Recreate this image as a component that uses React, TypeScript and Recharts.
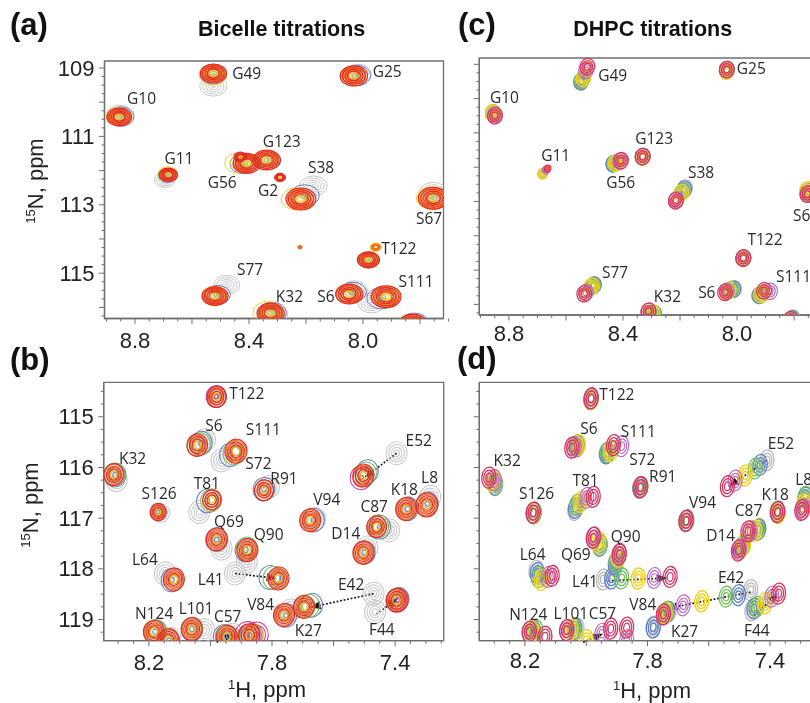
import React from 'react';
import { ScatterChart, Scatter, XAxis, YAxis, ReferenceLine, ReferenceArea } from 'recharts';

type Row = number[];
const GREY = '#c6c6c6', BLUE = '#5f7fcb', GREEN = '#74bf5f', YELLOW = '#f1d21f', PURPLE = '#b96cc3', CRIMSON = '#d7345f', RED = '#e32a20', ORANGE = '#f0701e', MAGENTA = '#d2308e';

/* ---------- tick values ---------- */
const xTicksTop = [8.9, 8.85, 8.8, 8.75, 8.7, 8.65, 8.6, 8.55, 8.5, 8.45, 8.4, 8.35, 8.3, 8.25, 8.2, 8.15, 8.1, 8.05, 8.0, 7.95, 7.9, 7.85, 7.8, 7.75, 7.7];
const xMajorTop = [8.8, 8.6, 8.4, 8.2, 8.0, 7.8];
const xLabelsTop = [8.8, 8.4, 8.0];
const yTicksTop = [109, 109.25, 109.5, 109.75, 110, 110.25, 110.5, 110.75, 111, 111.25, 111.5, 111.75, 112, 112.25, 112.5, 112.75, 113, 113.25, 113.5, 113.75, 114, 114.25, 114.5, 114.75, 115, 115.25, 115.5, 115.75, 116, 116.25];
const yMajorTop = [109, 110, 111, 112, 113, 114, 115, 116];
const yLabelsTop = [109, 111, 113, 115];
const xTicksBottom = [8.3, 8.25, 8.2, 8.15, 8.1, 8.05, 8.0, 7.95, 7.9, 7.85, 7.8, 7.75, 7.7, 7.65, 7.6, 7.55, 7.5, 7.45, 7.4, 7.35, 7.3, 7.25];
const xMajorBottom = [8.2, 8.0, 7.8, 7.6, 7.4];
const xLabelsBottom = [8.2, 7.8, 7.4];
const yTicksBottom = [114.5, 114.75, 115, 115.25, 115.5, 115.75, 116, 116.25, 116.5, 116.75, 117, 117.25, 117.5, 117.75, 118, 118.25, 118.5, 118.75, 119, 119.25];
const yMajorBottom = [115, 116, 117, 118, 119];
const yLabelsBottom = [115, 116, 117, 118, 119];

/* ---------- panel (a): 1H, 15N, relative peak size ---------- */
const aGrey: Row[] = [[8.525,109.53,1.05],[8.017,109.17,1],[8.853,110.35,.95],[8.695,112.27,.8],[8.174,112.45,1.05],[7.753,112.65,1.1],[8.478,115.34,1],[8.03,115.5,1],[7.97,115.87,1.05],[8.31,116.22,1],[8.221,114.24,.2],[8.41,111.8,.9]];
const aBlue: Row[] = [[8.525,109.18,1],[8.022,109.22,1.05],[8.85,110.42,1],[8.685,112.14,.72],[8.42,111.8,1],[8.333,111.7,.95],[8.205,112.73,1.1],[7.755,112.81,1.1],[7.98,114.62,.8],[8.51,115.63,.95],[8.318,116.15,1.05],[8.035,115.55,1],[7.935,115.73,1.1],[7.82,116.48,1.1]];
const aYellow: Row[] = [[8.527,109.2,1],[8.035,109.25,.95],[8.858,110.42,.9],[8.685,112.1,.72],[8.437,111.78,1],[8.34,111.7,.9],[8.235,112.83,1.08],[7.76,112.8,1.1],[7.955,114.24,.42],[8.521,115.66,.95],[8.335,116.14,1.05],[8.05,115.6,.95],[7.92,115.68,1.05],[7.83,116.5,1]];
const aOrange: Row[] = [[8.525,109.15,1],[8.033,109.22,1],[8.855,110.44,.95],[8.683,112.13,.72],[8.41,111.78,1.05],[8.337,111.68,1],[8.219,112.84,1.12],[7.752,112.82,1.15],[7.98,114.6,.85],[7.955,114.24,.38],[8.52,115.67,1],[8.325,116.17,1.05],[8.05,115.62,1.05],[7.92,115.7,1.15],[7.825,116.5,1.1],[8.221,114.24,.16]];
const aRed: Row[] = [[8.525,109.16,1],[8.032,109.23,1.05],[8.855,110.43,.95],[8.683,112.12,.7],[8.408,111.79,1.05],[8.43,111.6,.5],[8.338,111.69,1.05],[8.291,112.2,.42],[8.218,112.83,1.15],[7.753,112.81,1.15],[7.981,114.61,.85],[8.519,115.67,1],[8.324,116.17,1.05],[8.048,115.61,1.05],[7.919,115.69,1.15],[7.825,116.5,1.1]];
const aLabels = [
  { t: 'G49', h: 8.408, n: 109.15 }, { t: 'G25', h: 7.915, n: 109.1 }, { t: 'G10', h: 8.777, n: 109.88 }, { t: 'G123', h: 8.285, n: 111.12 },
  { t: 'G11', h: 8.646, n: 111.63 }, { t: 'S38', h: 8.147, n: 111.9 }, { t: 'G56', h: 8.494, n: 112.32 }, { t: 'G2', h: 8.333, n: 112.56 },
  { t: 'S67', h: 7.768, n: 113.39 }, { t: 'T122', h: 7.874, n: 114.26 }, { t: 'S77', h: 8.396, n: 114.88 }, { t: 'S111', h: 7.814, n: 115.22 },
  { t: 'K32', h: 8.258, n: 115.68 }, { t: 'S6', h: 8.13, n: 115.66 },
];

/* ---------- panel (c) ---------- */
const cGrey: Row[] = [[8.547,109.52],[8.036,109.15],[8.857,110.42],[8.682,112.2,.6],[8.434,111.9],[8.331,111.69],[8.182,112.61],[7.75,112.7],[7.978,114.65],[8.502,115.43],[8.29,116.28],[8.01,115.55],[7.92,115.73],[7.805,116.4]];
const cBlue: Row[] = [[8.547,109.5],[8.036,109.16],[8.856,110.42],[8.682,112.19,.6],[8.434,111.9],[8.331,111.69],[8.185,112.64],[7.752,112.72],[7.978,114.65],[8.502,115.44],[8.292,116.27],[8.013,115.56],[7.922,115.74],[7.808,116.42]];
const cGreen: Row[] = [[8.545,109.47],[8.036,109.17],[8.856,110.42],[8.681,112.18,.6],[8.43,111.88],[8.331,111.69],[8.19,112.7],[7.752,112.74],[7.978,114.65],[8.505,115.46],[8.294,116.26],[8.02,115.57],[7.918,115.72],[7.81,116.44]];
const cYellow: Row[] = [[8.539,109.41],[8.036,109.2],[8.857,110.41],[8.682,112.19,.6],[8.426,111.88],[8.331,111.7],[8.196,112.76],[7.754,112.66],[7.978,114.66],[8.51,115.48],[8.297,116.25],[8.03,115.6],[7.915,115.71],[7.815,116.46]];
const cPurple: Row[] = [[8.53,109.18],[8.036,109.16],[8.85,110.48],[8.67,112.08,.5],[8.41,111.82],[8.331,111.69],[8.213,112.95],[7.753,112.78],[7.978,114.65],[8.53,115.65],[8.31,116.2],[8.036,115.62],[7.884,115.62],[7.812,116.45]];
const cCrimson: Row[] = [[8.525,109.07],[8.036,109.15],[8.849,110.5],[8.664,112.04,.42],[8.407,111.81],[8.331,111.69],[8.215,112.98],[7.753,112.79],[7.978,114.65],[8.536,115.69],[8.311,116.2],[8.042,115.65],[7.905,115.6],[7.812,116.45]];
const cLabels = [
  { t: 'G49', h: 8.436, n: 109.32 }, { t: 'G25', h: 7.95, n: 109.12 }, { t: 'G10', h: 8.816, n: 109.95 }, { t: 'G123', h: 8.291, n: 111.15 },
  { t: 'G11', h: 8.636, n: 111.64 }, { t: 'S38', h: 8.126, n: 112.15 }, { t: 'G56', h: 8.408, n: 112.43 }, { t: 'S67', h: 7.758, n: 113.39 },
  { t: 'T122', h: 7.902, n: 114.08 }, { t: 'S77', h: 8.428, n: 115.07 }, { t: 'S111', h: 7.802, n: 115.18 }, { t: 'S6', h: 8.106, n: 115.64 },
  { t: 'K32', h: 8.244, n: 115.75 },
];

/* ---------- panel (b) ---------- */
const bGrey: Row[] = [[7.98,114.61,.9],[8.018,115.46],[7.964,115.86],[8.305,116.25],[7.81,116.38],[8.16,116.9,.8],[8.036,116.88],[7.66,117.02],[7.395,115.72],[7.286,116.58],[7.36,116.8],[7.42,117.24],[7.49,117.58],[7.964,117.6],[7.882,117.86],[8.148,118.09],[7.92,118.09],[7.74,118.82],[7.47,118.49],[7.465,118.85],[8.13,119.38],[8.021,119.21],[7.93,119.3],[7.87,119.28]];
const bBlue: Row[] = [[7.98,114.6,.9],[8.03,115.52],[7.935,115.75],[8.31,116.15],[7.826,116.43],[8.17,116.88,.75],[8.01,116.66],[7.665,117.04],[7.49,116.08],[7.295,116.72],[7.36,116.82],[7.45,117.18],[7.5,117.68],[7.98,117.42],[7.885,117.63],[8.125,118.22],[7.807,118.17],[7.755,118.92],[7.671,118.72],[7.39,118.6],[8.18,119.24],[8.06,119.19],[7.955,119.33],[7.87,119.32],[8.135,119.42]];
const bGreen: Row[] = [[8.035,115.54],[7.925,115.72],[8.312,116.14],[7.998,116.65],[7.495,116.12],[7.455,117.16],[7.882,117.6],[7.795,118.18],[7.68,118.73],[7.392,118.6],[8.175,119.24],[8.06,119.18],[7.95,119.33]];
const bMagenta: Row[] = [[7.51,116.2],[7.88,119.3,1.1],[7.85,119.3,1.05],[7.982,114.6,.9],[7.393,118.62]];
const bOrange: Row[] = [[7.98,114.62,.95],[8.045,115.57],[7.917,115.68,1.05],[8.314,116.14],[7.826,116.45],[8.17,116.88,.75],[7.995,116.64],[7.676,117.04],[7.5,116.16],[7.297,116.74,1.05],[7.364,116.82],[7.46,117.17],[7.503,117.68],[7.98,117.42],[7.88,117.63],[8.119,118.21],[7.78,118.19],[7.761,118.91],[7.696,118.75],[7.395,118.62],[8.184,119.24],[8.137,119.41],[8.061,119.19],[7.947,119.34],[7.88,119.31],[7.86,119.3]];
const bRed: Row[] = [[7.98,114.61,.92],[8.043,115.56,.98],[7.917,115.68,1.05],[8.314,116.14,.95],[7.826,116.45,.9],[8.17,116.88,.75],[7.996,116.64,.85],[7.676,117.04],[7.503,116.16],[7.297,116.74,1.05],[7.364,116.82],[7.46,117.17,.95],[7.503,117.68],[7.98,117.42],[7.88,117.63],[8.119,118.21],[7.779,118.19],[7.761,118.91],[7.696,118.75],[7.395,118.62],[8.184,119.24],[8.137,119.41],[8.061,119.19],[7.947,119.34],[7.874,119.31]];
const bArrows: Row[] = [[7.395,115.72,7.5,116.2],[7.92,118.09,7.785,118.19],[7.47,118.49,7.675,118.76],[7.46,118.89,7.39,118.58],[7.98,119.45,7.925,119.28]];
const bLabels = [
  { t: 'T122', h: 7.882, n: 114.53 }, { t: 'S6', h: 7.989, n: 115.16 }, { t: 'S111', h: 7.828, n: 115.24 }, { t: 'S72', h: 7.844, n: 115.92 },
  { t: 'K32', h: 8.253, n: 115.82 }, { t: 'E52', h: 7.323, n: 115.45 }, { t: 'R91', h: 7.761, n: 116.2 }, { t: 'L8', h: 7.288, n: 116.18 },
  { t: 'S126', h: 8.167, n: 116.5 }, { t: 'T81', h: 8.012, n: 116.3 }, { t: 'V94', h: 7.622, n: 116.63 }, { t: 'K18', h: 7.37, n: 116.43 },
  { t: 'C87', h: 7.468, n: 116.76 }, { t: 'Q69', h: 7.94, n: 117.05 }, { t: 'Q90', h: 7.811, n: 117.32 }, { t: 'D14', h: 7.56, n: 117.29 },
  { t: 'L64', h: 8.213, n: 117.8 }, { t: 'L41', h: 7.999, n: 118.2 }, { t: 'E42', h: 7.543, n: 118.29 }, { t: 'V84', h: 7.837, n: 118.7 },
  { t: 'N124', h: 8.183, n: 118.88 }, { t: 'L101', h: 8.047, n: 118.78 }, { t: 'C57', h: 7.944, n: 118.93 }, { t: 'K27', h: 7.682, n: 119.2 },
  { t: 'F44', h: 7.443, n: 119.19 },
];

/* ---------- panel (d) ---------- */
const dGrey: Row[] = [[7.984,114.64],[8.03,115.58],[7.935,115.72],[8.296,116.35],[7.825,116.38],[8.17,116.9],[8.037,116.84],[7.672,117.05],[7.375,116.88],[7.285,116.58],[7.437,117.22],[7.49,117.55],[7.955,117.55],[7.903,117.95],[8.164,118.04],[7.41,115.86],[7.944,118.21],[7.463,118.42],[7.459,118.82],[7.73,118.85],[7.781,119.14],[8.175,119.24],[8.03,119.18]];
const dBlue: Row[] = [[7.984,114.65],[8.028,115.58],[7.933,115.72],[8.297,116.34],[7.825,116.4],[8.17,116.9],[8.035,116.8],[7.672,117.05],[7.375,116.87],[7.285,116.6],[7.437,117.22],[7.49,117.55],[7.955,117.54],[7.905,117.9],[8.16,118.08],[7.432,115.95],[7.917,118.19],[7.503,118.52],[7.452,118.78],[7.735,118.85],[7.781,119.16],[8.172,119.24],[8.037,119.18]];
const dGreen: Row[] = [[7.984,114.65],[8.03,115.56],[7.93,115.7],[8.296,116.33],[7.823,116.39],[8.17,116.9],[8.031,116.74],[7.672,117.05],[7.377,116.87],[7.285,116.58],[7.44,117.23],[7.49,117.56],[7.955,117.53],[7.903,117.86],[8.156,118.16],[7.448,116.02],[7.884,118.19],[7.543,118.55],[7.443,118.75],[7.737,118.85],[8.165,119.22],[8.04,119.19]];
const dYellow: Row[] = [[7.984,114.65],[8.026,115.56],[7.92,115.68],[8.305,116.27],[7.822,116.39],[8.172,116.9],[8.018,116.68],[7.674,117.06],[7.373,116.9],[7.29,116.73],[7.45,117.25],[7.486,117.53],[7.96,117.47],[7.895,117.76],[8.146,118.22],[7.481,116.16],[7.83,118.19],[7.623,118.64],[7.416,118.68],[7.742,118.88],[8.0,119.41],[8.178,119.24],[8.05,119.2]];
const dPurple: Row[] = [[7.984,114.63],[8.04,115.6],[7.884,115.58],[8.301,116.25],[7.822,116.39],[8.173,116.89],[7.998,116.6],[7.674,117.06],[7.375,116.88],[7.292,116.82],[7.465,117.26],[7.5,117.62],[7.975,117.38],[7.892,117.7],[8.124,118.16],[7.514,116.26],[7.778,118.18],[7.683,118.72],[7.394,118.55],[7.747,118.9],[7.949,119.28],[7.868,119.41],[8.186,119.24],[8.063,119.21]];
const dCrimson: Row[] = [[7.984,114.64],[8.047,115.61],[7.911,115.56],[8.318,116.2],[7.822,116.39],[8.173,116.89],[7.977,116.58],[7.674,117.05],[7.375,116.88],[7.296,116.84],[7.472,117.26],[7.503,117.64],[7.977,117.39],[7.892,117.72],[8.111,118.14],[7.539,116.37],[7.726,118.16],[7.748,118.9],[7.372,118.49],[7.92,119.18],[7.868,119.16],[8.186,119.24],[8.135,119.34],[8.064,119.21]];
const dArrows: Row[] = [[7.41,115.86,7.535,116.38],[7.94,118.24,7.735,118.18],[7.463,118.46,7.735,118.78],[7.452,118.92,7.375,118.5],[8.01,119.45,7.945,119.28]];
const dLabels = [
  { t: 'T122', h: 7.9, n: 114.55 }, { t: 'S6', h: 7.991, n: 115.23 }, { t: 'S111', h: 7.83, n: 115.28 }, { t: 'S72', h: 7.817, n: 115.84 },
  { t: 'K32', h: 8.258, n: 115.86 }, { t: 'E52', h: 7.364, n: 115.51 }, { t: 'R91', h: 7.75, n: 116.17 }, { t: 'L8', h: 7.29, n: 116.23 },
  { t: 'S126', h: 8.162, n: 116.51 }, { t: 'T81', h: 8.002, n: 116.25 }, { t: 'V94', h: 7.62, n: 116.68 }, { t: 'K18', h: 7.383, n: 116.53 },
  { t: 'C87', h: 7.47, n: 116.84 }, { t: 'Q90', h: 7.871, n: 117.36 }, { t: 'D14', h: 7.561, n: 117.34 }, { t: 'L64', h: 8.175, n: 117.71 },
  { t: 'Q69', h: 8.034, n: 117.71 }, { t: 'L41', h: 8.004, n: 118.24 }, { t: 'E42', h: 7.527, n: 118.16 }, { t: 'V84', h: 7.815, n: 118.7 },
  { t: 'N124', h: 8.189, n: 118.89 }, { t: 'L101', h: 8.05, n: 118.87 }, { t: 'C57', h: 7.947, n: 118.87 }, { t: 'K27', h: 7.679, n: 119.22 },
  { t: 'F44', h: 7.443, n: 119.21 },
];

const AXIS_COLOR = '#6f6f6f';
const TICK_FONT = '"Liberation Sans", Arial, sans-serif';
const PEAK_FONT = '"Open Sans", "Noto Sans", sans-serif';

const pts = (rows: Row[]) => rows.map(([h, n, z = 1]) => ({ h, n, z }));

const contour = (color: string, levels: number[], rx: number, ry: number, sw: number, tilt: number) => (p: any) => {
  const { cx, cy, payload } = p;
  if (cx == null || cy == null) return <g />;
  const z = payload?.z ?? 1;
  return (
    <g transform={`rotate(${tilt} ${cx} ${cy})`}>
      {levels.map((l, i) => (
        <ellipse key={i} cx={cx} cy={cy} rx={rx * z * l} ry={ry * z * l} fill="none" stroke={color} strokeWidth={sw} />
      ))}
    </g>
  );
};

const labelShape = (p: any) => {
  const { cx, cy, payload } = p;
  return (
    <text x={cx} y={cy} textAnchor="middle" dominantBaseline="central" fontFamily={PEAK_FONT} fontSize={15.5} fill="#2a2a2a">
      {payload.t}
    </text>
  );
};

const arrowShape = (p: any) => {
  const { x1, y1, x2, y2 } = p;
  if (x1 == null) return <g />;
  const a = Math.atan2(y2 - y1, x2 - x1);
  const L = 10, W = 4;
  const bx = x2 - L * Math.cos(a), by = y2 - L * Math.sin(a);
  const nx = -Math.sin(a) * W, ny = Math.cos(a) * W;
  return (
    <g>
      <line x1={x1} y1={y1} x2={bx} y2={by} stroke="#111" strokeWidth={1.7} strokeDasharray="1.8 1.8" />
      <polygon points={`${x2},${y2} ${bx + nx},${by + ny} ${bx - nx},${by - ny}`} fill="#111" />
    </g>
  );
};

const xTick = (major: number[], labels: number[], dy: number) => (p: any) => {
  const v = p.payload.value;
  const isMajor = major.includes(v);
  return (
    <g>
      <line x1={p.x} x2={p.x} y1={p.y} y2={p.y + (isMajor ? 5.5 : 3)} stroke={AXIS_COLOR} strokeWidth={1} />
      {labels.includes(v) && (
        <text x={p.x} y={p.y + dy} textAnchor="middle" fontFamily={TICK_FONT} fontSize={22} fill="#222">
          {v.toFixed(1)}
        </text>
      )}
    </g>
  );
};

const yTick = (major: number[], labels: number[], showLabels: boolean) => (p: any) => {
  const v = p.payload.value;
  const isMajor = major.includes(v);
  return (
    <g>
      <line x1={p.x} x2={p.x - (isMajor ? 5.5 : 3)} y1={p.y} y2={p.y} stroke={AXIS_COLOR} strokeWidth={1} />
      {showLabels && labels.includes(v) && (
        <text x={p.x - 10} y={p.y} textAnchor="end" dominantBaseline="central" fontFamily={TICK_FONT} fontSize={22} fill="#222">
          {v}
        </text>
      )}
    </g>
  );
};

type SeriesSpec = { name: string; rows: Row[]; color: string; levels: number[]; sw?: number };

type PanelProps = {
  box: [number, number, number, number];
  plot: [number, number, number, number];
  xDomain: [number, number];
  yDomain: [number, number];
  xTicks: number[]; xMajor: number[]; xLabels: number[];
  yTicks: number[]; yMajor: number[]; yLabels: number[];
  showY: boolean;
  rx: number; ry: number; tilt: number;
  series: SeriesSpec[];
  labels: { t: string; h: number; n: number }[];
  arrows?: Row[];
  labelDy: number;
};

function Panel(pr: PanelProps) {
  const [L, T, W, H] = pr.box;
  const [pl, pt, pr2, pb] = pr.plot;
  return (
    <div style={{ position: 'absolute', left: L, top: T, width: W, height: H }}>
      <ScatterChart width={W} height={H} margin={{ top: pt - T, left: 0, right: L + W - pr2, bottom: 0 }}>
        <XAxis
          dataKey="h" type="number" reversed allowDataOverflow domain={pr.xDomain} ticks={pr.xTicks} interval={0}
          tickLine={false} tickSize={0} tickMargin={0} height={T + H - pb}
          axisLine={{ stroke: AXIS_COLOR, strokeWidth: 1.3 }} tick={xTick(pr.xMajor, pr.xLabels, pr.labelDy)}
        />
        <YAxis
          dataKey="n" type="number" reversed allowDataOverflow domain={pr.yDomain} ticks={pr.yTicks} interval={0}
          tickLine={false} tickSize={0} tickMargin={0} width={pl - L}
          axisLine={{ stroke: AXIS_COLOR, strokeWidth: 1.3 }} tick={yTick(pr.yMajor, pr.yLabels, pr.showY)}
        />
        <ReferenceArea x1={pr.xDomain[0]} x2={pr.xDomain[1]} y1={pr.yDomain[0]} y2={pr.yDomain[1]} fill="none" stroke={AXIS_COLOR} strokeWidth={1.3} fillOpacity={0} />
        {pr.series.map((s) => (
          <Scatter key={s.name} name={s.name} data={pts(s.rows)} isAnimationActive={false}
            shape={contour(s.color, s.levels, pr.rx, pr.ry, s.sw ?? 1, pr.tilt)} />
        ))}
        <Scatter name="labels" data={pr.labels} isAnimationActive={false} shape={labelShape} />
        {(pr.arrows ?? []).map((a, i) => (
          <ReferenceLine key={i} segment={[{ x: a[0], y: a[1] }, { x: a[2], y: a[3] }]} ifOverflow="visible" shape={arrowShape} />
        ))}
      </ScatterChart>
    </div>
  );
}

const aSeries: SeriesSpec[] = [
  { name: 'grey', rows: aGrey, color: GREY, levels: [1, 0.78, 0.56, 0.34, 0.14] },
  { name: 'blue', rows: aBlue, color: BLUE, levels: [1.03, 0.3] },
  { name: 'yellow', rows: aYellow, color: YELLOW, levels: [1.06, 0.62] },
  { name: 'orange', rows: aOrange, color: ORANGE, levels: [0.92, 0.74, 0.56, 0.4], sw: 1.2 },
  { name: 'red', rows: aRed, color: RED, levels: [1, 0.83, 0.65, 0.48], sw: 1.2 },
  { name: 'core', rows: aRed, color: '#e8c92a', levels: [0.3, 0.2], sw: 1 },
  { name: 'center', rows: aBlue, color: GREEN, levels: [0.1], sw: 1 },
];
const bSeries: SeriesSpec[] = [
  { name: 'grey', rows: bGrey, color: GREY, levels: [1, 0.76, 0.52, 0.28] },
  { name: 'blue', rows: bBlue, color: BLUE, levels: [1.03, 0.22] },
  { name: 'green', rows: bGreen, color: GREEN, levels: [1, 0.6] },
  { name: 'magenta', rows: bMagenta, color: MAGENTA, levels: [1.05, 0.8, 0.2] },
  { name: 'orange', rows: bOrange, color: ORANGE, levels: [0.9, 0.62, 0.4], sw: 1.1 },
  { name: 'red', rows: bRed, color: RED, levels: [1, 0.76, 0.52], sw: 1.1 },
  { name: 'core', rows: bRed, color: '#d7c52a', levels: [0.32], sw: 1 },
];
const cLv = [1, 0.7, 0.4];
const cSeries: SeriesSpec[] = [
  { name: 'grey', rows: cGrey, color: '#b9b9b9', levels: cLv, sw: 1.3 },
  { name: 'blue', rows: cBlue, color: BLUE, levels: cLv, sw: 1.3 },
  { name: 'green', rows: cGreen, color: GREEN, levels: cLv, sw: 1.3 },
  { name: 'yellow', rows: cYellow, color: YELLOW, levels: cLv, sw: 1.5 },
  { name: 'purple', rows: cPurple, color: PURPLE, levels: cLv, sw: 1.2 },
  { name: 'crimson', rows: cCrimson, color: CRIMSON, levels: [1, 0.72, 0.42], sw: 1.3 },
  { name: 'core', rows: cCrimson, color: ORANGE, levels: [0.56], sw: 1 },
];
const dSeries: SeriesSpec[] = [
  { name: 'grey', rows: dGrey, color: '#b9b9b9', levels: cLv, sw: 1.3 },
  { name: 'blue', rows: dBlue, color: BLUE, levels: cLv, sw: 1.3 },
  { name: 'green', rows: dGreen, color: GREEN, levels: cLv, sw: 1.3 },
  { name: 'yellow', rows: dYellow, color: YELLOW, levels: cLv, sw: 1.5 },
  { name: 'purple', rows: dPurple, color: PURPLE, levels: cLv, sw: 1.2 },
  { name: 'crimson', rows: dCrimson, color: CRIMSON, levels: [1, 0.72, 0.42], sw: 1.3 },
];

export default function App() {
  const sup = 13, big = 22;
  return (
    <div style={{ position: 'fixed', left: 0, top: 0, width: 810, height: 703, overflow: 'hidden', background: '#fff', filter: 'blur(0.5px)' }}>
      <Panel box={[0, 40, 450, 320]} plot={[104.5, 61, 443.5, 318.5]} xDomain={[7.7175, 8.907]} yDomain={[108.795, 116.325]}
        xTicks={xTicksTop} xMajor={xMajorTop} xLabels={xLabelsTop} yTicks={yTicksTop} yMajor={yMajorTop} yLabels={yLabelsTop}
        showY rx={13} ry={9.5} tilt={0} series={aSeries} labels={aLabels} labelDy={29.5} />
      <Panel box={[450, 40, 380, 320]} plot={[479.3, 58, 828, 315]} xDomain={[7.681, 8.904]} yDomain={[108.816, 116.31]}
        xTicks={xTicksTop} xMajor={xMajorTop} xLabels={xLabelsTop} yTicks={yTicksTop} yMajor={yMajorTop} yLabels={yLabelsTop}
        showY={false} rx={7.3} ry={8.2} tilt={12} series={cSeries} labels={cLabels} labelDy={26} />
      <Panel box={[0, 360, 450, 343]} plot={[103.7, 382.3, 443.7, 640.7]} xDomain={[7.242, 8.347]} yDomain={[114.32, 119.418]}
        xTicks={xTicksBottom} xMajor={xMajorBottom} xLabels={xLabelsBottom} yTicks={yTicksBottom} yMajor={yMajorBottom} yLabels={yLabelsBottom}
        showY rx={10.5} ry={11.5} tilt={8} series={bSeries} labels={bLabels} arrows={bArrows} labelDy={29.5} />
      <Panel box={[450, 360, 380, 343]} plot={[479.3, 382.3, 830, 640.7]} xDomain={[7.204, 8.349]} yDomain={[114.32, 119.418]}
        xTicks={xTicksBottom} xMajor={xMajorBottom} xLabels={xLabelsBottom} yTicks={yTicksBottom} yMajor={yMajorBottom} yLabels={yLabelsBottom}
        showY={false} rx={7} ry={10.5} tilt={6} series={dSeries} labels={dLabels} arrows={dArrows} labelDy={27.5} />
      <svg width={810} height={703} style={{ position: 'absolute', left: 0, top: 0, pointerEvents: 'none' }}>
        <g fontFamily={TICK_FONT} fill="#111">
          <g fontWeight="bold" fontSize={31}>
            <text x={10} y={35}>(a)</text>
            <text x={458} y={35}>(c)</text>
            <text x={10} y={370}>(b)</text>
            <text x={457} y={369}>(d)</text>
          </g>
          <g fontWeight="bold" fontSize={21.5} textAnchor="middle">
            <text x={281.7} y={35.7}>Bicelle titrations</text>
            <text x={652.7} y={35.7}>DHPC titrations</text>
          </g>
          <g fill="#222">
            <text x={267} y={697} textAnchor="middle" fontSize={big}><tspan fontSize={sup} dy={-8}>1</tspan><tspan dy={8}>H, ppm</tspan></text>
            <text x={652} y={698} textAnchor="middle" fontSize={big}><tspan fontSize={sup} dy={-8}>1</tspan><tspan dy={8}>H, ppm</tspan></text>
            <text transform="translate(43 181) rotate(-90)" textAnchor="middle" fontSize={big}><tspan fontSize={sup} dy={-8}>15</tspan><tspan dy={8}>N, ppm</tspan></text>
            <text transform="translate(38 505) rotate(-90)" textAnchor="middle" fontSize={big}><tspan fontSize={sup} dy={-8}>15</tspan><tspan dy={8}>N, ppm</tspan></text>
          </g>
        </g>
      </svg>
    </div>
  );
}
